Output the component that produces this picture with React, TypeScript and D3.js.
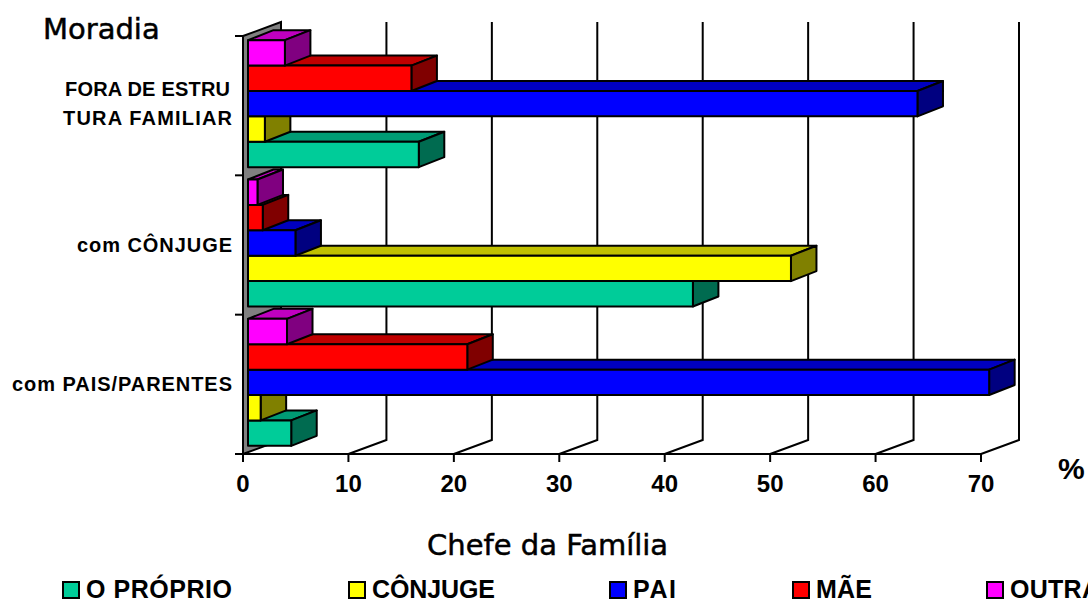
import React from 'react'
import * as d3 from 'd3'

const categories = ['com PAIS/PARENTES', 'com CÔNJUGE', 'FORA DE ESTRU|TURA FAMILIAR']
const seriesNames = ['O PRÓPRIO', 'CÔNJUGE', 'PAI', 'MÃE', 'OUTRA']
const proprio = [4.1, 42.2, 16.2]
const conjuge = [1.2, 51.5, 1.6]
const pai = [70.3, 4.5, 63.5]
const mae = [20.8, 1.4, 15.5]
const outra = [3.7, 0.9, 3.5]
const allSeries = [proprio, conjuge, pai, mae, outra]
const xTicks = [0, 10, 20, 30, 40, 50, 60, 70]

const fronts = ['#00cc99', '#ffff00', '#0000ff', '#ff0000', '#ff00ff']
const tops = ['#009c75', '#c0c000', '#0000c0', '#c00000', '#c000c0']
const sides = ['#006b50', '#808000', '#000080', '#800000', '#800080']
const legendX = [63, 349, 610, 793, 987]
// the original text runs a little wider than Liberation Sans
const legendWidths = [146, 123, 43, 56, 90]
const labelWidths: Record<string, number> = {
  'com PAIS/PARENTES': 220,
  'com CÔNJUGE': 155,
  'FORA DE ESTRU': 165,
  'TURA FAMILIAR': 169
}

const W = 1088
const H = 601
const x = d3.scaleLinear().domain([0, 70]).range([243, 981])
const y = d3.scaleBand().domain(categories).range([454, 36])
const series = d3.scaleBand().domain(seriesNames).range([0, 127])
const wallDx = 38
const wallDy = -14
const barDx = 25.5
const barDy = -10
const barInX = 5
const barInY = -2

const poly = (pts: number[][]) => d3.line()(pts as [number, number][]) + 'Z'
const arial = '"Liberation Sans", Arial, sans-serif'
const titleFont = '"DejaVu Sans", sans-serif'

export default function App() {
  const yBase = y.range()[0]
  const yTop = y.range()[1]
  const catEdges = [yBase, ...categories.map(c => y(c) as number)]

  return (
    <svg width={W} height={H} style={{ position: 'absolute', left: 0, top: 0, background: '#fff' }}>
      {/* left wall */}
      <path
        d={poly([[x(0), yBase], [x(0), yTop], [x(0) + wallDx, yTop + wallDy], [x(0) + wallDx, yBase + wallDy]])}
        fill="#808080"
        stroke="#000"
        strokeWidth={2}
      />
      {/* grid on back wall and floor */}
      {xTicks.slice(1).map(t => (
        <path
          key={t}
          d={d3.line()([[x(t), yBase], [x(t) + wallDx, yBase + wallDy], [x(t) + wallDx, yTop + wallDy]]) as string}
          fill="none"
          stroke="#000"
          strokeWidth={2}
        />
      ))}
      {/* axes */}
      <line x1={x(0) - 8} x2={x(70)} y1={yBase} y2={yBase} stroke="#000" strokeWidth={2} />
      {xTicks.map(t => (
        <g key={t}>
          <line x1={x(t)} x2={x(t)} y1={yBase} y2={yBase + 8} stroke="#000" strokeWidth={2} />
          <text x={x(t)} y={492} textAnchor="middle" fontFamily={arial} fontWeight="bold" fontSize={24} fill="#000">
            {t}
          </text>
        </g>
      ))}
      {catEdges.map(e => (
        <line key={e} x1={x(0) - 8} x2={x(0)} y1={e} y2={e} stroke="#000" strokeWidth={2} />
      ))}
      {/* bars */}
      {categories.map((c, i) => {
        const bandBottom = (y(c) as number) + y.bandwidth() + barInY
        const pad = (y.bandwidth() - series.range()[1]) / 2
        return (
          <g key={c}>
            {seriesNames.map((s, k) => {
              const x0 = x(0) + barInX
              const x1 = x(allSeries[k][i]) + barInX
              const yb = bandBottom - pad - (series(s) as number)
              const yt = yb - series.bandwidth()
              return (
                <g key={s} stroke="#000" strokeWidth={2} strokeLinejoin="round">
                  <path d={poly([[x0, yt], [x0 + barDx, yt + barDy], [x1 + barDx, yt + barDy], [x1, yt]])} fill={tops[k]} />
                  <path d={poly([[x1, yt], [x1 + barDx, yt + barDy], [x1 + barDx, yb + barDy], [x1, yb]])} fill={sides[k]} />
                  <rect x={x0} y={yt} width={x1 - x0} height={yb - yt} fill={fronts[k]} />
                </g>
              )
            })}
          </g>
        )
      })}
      {/* category labels */}
      {categories.map(c => {
        const lines = c.split('|')
        const mid = (y(c) as number) + y.bandwidth() / 2
        return lines.map((l, j) => (
          <text
            key={l}
            x={232 - (l === 'FORA DE ESTRU' ? 2 : 0)}
            y={lines.length > 1 ? 96 + j * 29 : mid + 7}
            textAnchor="end"
            textLength={labelWidths[l]}
            lengthAdjust="spacing"
            fontFamily={arial}
            fontWeight="bold"
            fontSize={20}
            fill="#000"
          >
            {l}
          </text>
        ))
      })}
      <text x={43} y={39} fontFamily={titleFont} fontSize={29} fill="#000" stroke="#000" strokeWidth={0.5}>Moradia</text>
      <text x={427} y={555} fontFamily={titleFont} fontSize={29} fill="#000" stroke="#000" strokeWidth={0.5}>Chefe da Família</text>
      <text x={1058} y={479} fontFamily={arial} fontWeight="bold" fontSize={30} fill="#000">%</text>
      {/* legend */}
      {seriesNames.map((s, k) => (
        <g key={s}>
          <rect x={legendX[k]} y={582} width={16} height={16} fill={fronts[k]} stroke="#000" strokeWidth={2} />
          <text
            x={legendX[k] + 23}
            y={598}
            textLength={legendWidths[k]}
            lengthAdjust="spacing"
            fontFamily={arial}
            fontWeight="bold"
            fontSize={25}
            fill="#000"
          >
            {s}
          </text>
        </g>
      ))}
    </svg>
  )
}
